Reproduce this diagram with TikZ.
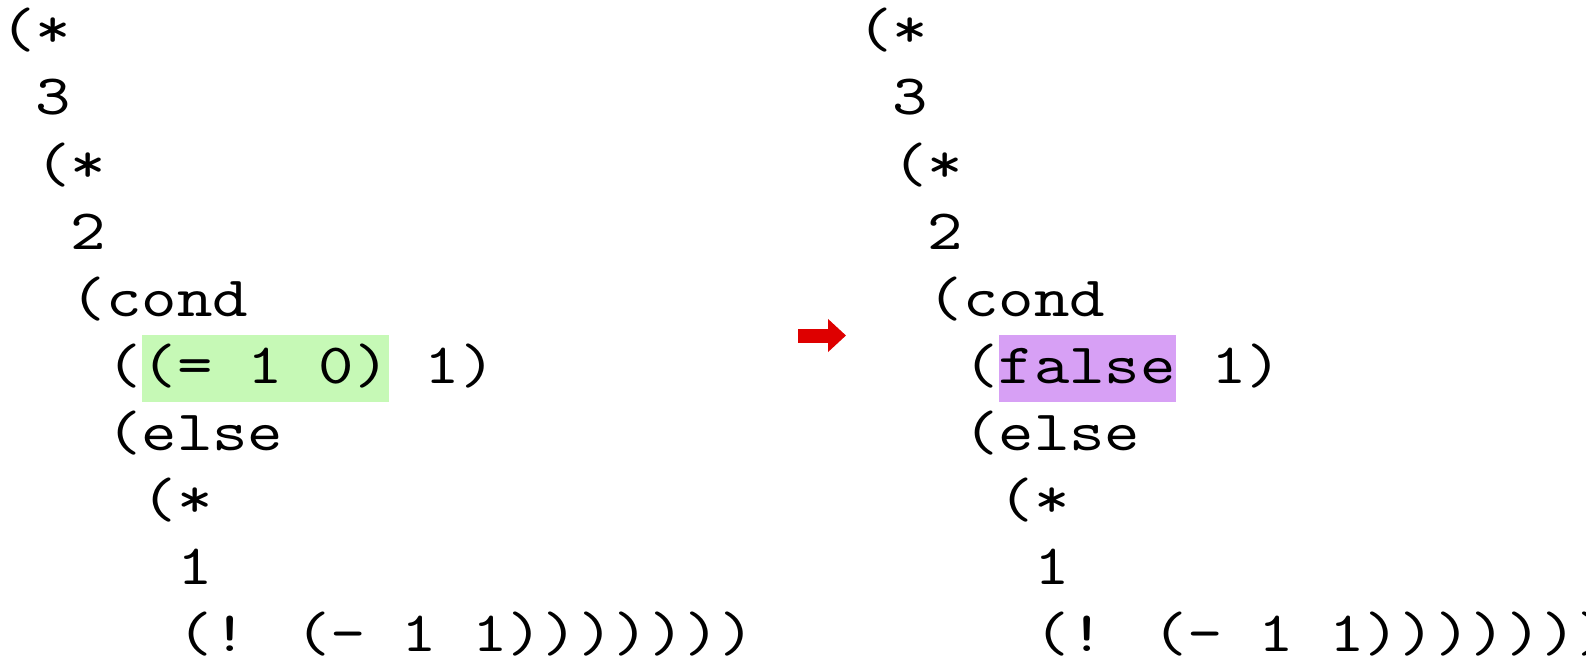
\documentclass[tikz,border=0pt]{standalone}
\usepackage{fontspec}
\newfontfamily\codefont[FakeStretch=1.183]{lmmono10-regular.otf}
\usetikzlibrary{arrows.meta}
\definecolor{hlgreen}{RGB}{198,249,182}
\definecolor{hlpurple}{RGB}{215,160,245}
\definecolor{arrred}{RGB}{222,0,0}
\tikzset{
  code/.style={anchor=base west, inner sep=0pt, outer sep=0pt,
    font=\codefont\fontsize{57}{67}\selectfont, text=black},
  hl/.style={code, fill=#1, text height=48pt, text depth=19pt}
}
\begin{document}
\begin{tikzpicture}[x=1pt,y=-1pt]
\useasboundingbox (0,0) rectangle (1586,658);
% left column (x0 = 0, pitch 35.4)
\node[code] (L1)  at (0,48)      {(*};
\node[code] (L2)  at (35.4,115)  {3};
\node[code] (L3)  at (35.4,182)  {(*};
\node[code] (L4)  at (70.8,249)  {2};
\node[code] (L5)  at (70.8,316)  {(cond};
\node[code] (L6a) at (106.2,383) {(};
\node[hl=hlgreen] (L6b) at (L6a.base east) {(= 1 0)};
\node[code] (L6c) at (L6b.base east) {\ 1)};
\node[code] (L7)  at (106.2,450) {(else};
\node[code] (L8)  at (141.6,517) {(*};
\node[code] (L9)  at (177,584)   {1};
\node[code] (L10) at (177,651)   {(! (- 1 1)))))))};
% right column (x0 = 857)
\node[code] (R1)  at (857,48)      {(*};
\node[code] (R2)  at (892.4,115)   {3};
\node[code] (R3)  at (892.4,182)   {(*};
\node[code] (R4)  at (927.8,249)   {2};
\node[code] (R5)  at (927.8,316)   {(cond};
\node[code] (R6a) at (963.2,383)   {(};
\node[hl=hlpurple] (R6b) at (R6a.base east) {false};
\node[code] (R6c) at (R6b.base east) {\ 1)};
\node[code] (R7)  at (963.2,450)   {(else};
\node[code] (R8)  at (998.6,517)   {(*};
\node[code] (R9)  at (1034,584)    {1};
\node[code] (R10) at (1034,651)    {(! (- 1 1)))))))};
% red arrow
\coordinate (aS) at (798,335.5);
\coordinate (aE) at (846,335.5);
\draw[arrred, line width=14pt, -{Triangle[length=18pt,width=32pt]}] (aS) -- (aE);
\end{tikzpicture}
\end{document}
